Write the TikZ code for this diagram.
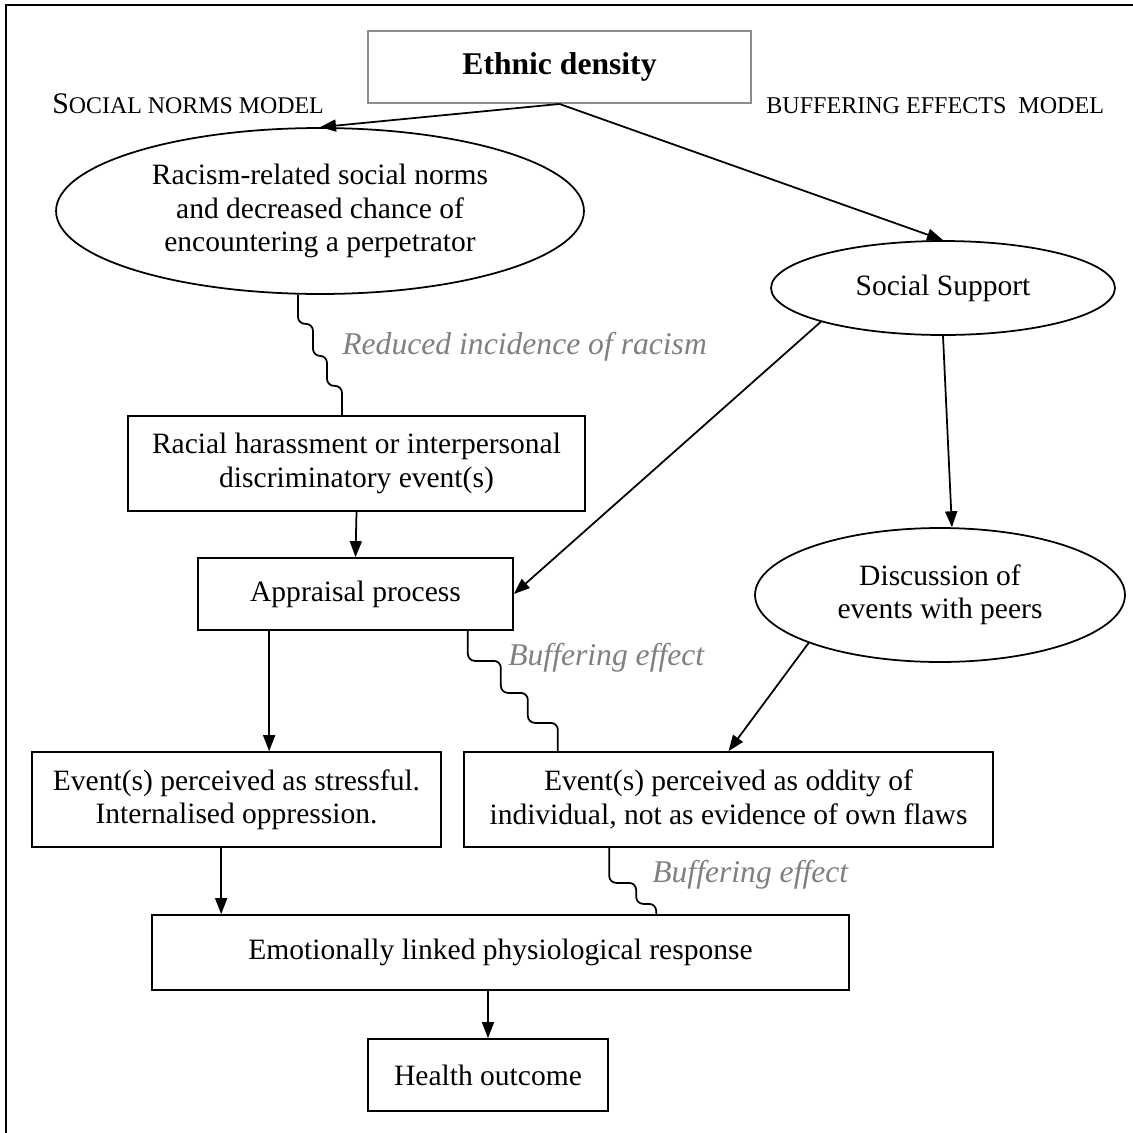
\documentclass[tikz,border=0pt]{standalone}
\usepackage{fontspec}
\setmainfont{Liberation Serif}
\usepackage{tikz}
\usetikzlibrary{positioning, arrows.meta, calc, shapes.geometric}

\begin{document}
\begin{tikzpicture}[
  x=0.02cm, y=-0.02cm,
  >={Triangle[length=0.32cm, width=0.24cm]},
  box/.style={rectangle, draw, line width=1pt, align=center, inner sep=0pt,
    font=\fontsize{16.8}{19}\selectfont},
  oval/.style={ellipse, draw, line width=1pt, align=center, inner sep=0pt,
    font=\fontsize{16.8}{19}\selectfont},
  arr/.style={->, line width=1pt},
  wave/.style={line width=1pt, rounded corners=4pt},
  lbl/.style={font=\fontsize{18}{21}\selectfont\itshape, text=black!50,
    anchor=west, inner sep=0pt},
  model/.style={anchor=base west, inner sep=0pt},
]
\useasboundingbox (0,0) rectangle (1133,1133);

% --- Frame ---
\draw[line width=1.3pt] (6,1133) -- (6,5) -- (1133,5);

% --- Top ---
\node[box, draw=black!45, line width=1.1pt,
  font=\fontsize{18}{21}\selectfont\bfseries,
  minimum width=7.66cm, minimum height=1.44cm] (ethnic) at (559.5,67) {Ethnic density};

\node[model] (snm) at (52,113)
  {\fontsize{17}{20}\selectfont S\fontsize{13.6}{16}\selectfont OCIAL NORMS MODEL};
\node[model] (bem) at (766,113)
  {\fontsize{13.7}{16}\selectfont BUFFERING EFFECTS\ \ MODEL};

% --- Social norms side ---
\node[oval, minimum width=10.56cm, minimum height=3.32cm] (norms) at (320,211)
  {Racism-related social norms\\and decreased chance of\\encountering a perpetrator};
\node[box, minimum width=9.14cm, minimum height=1.9cm] (harass) at (356.5,463.5)
  {Racial harassment or interpersonal\\discriminatory event(s)};
\node[box, minimum width=6.3cm, minimum height=1.44cm] (appraisal) at (355.5,594)
  {Appraisal process};

% --- Buffering side ---
\node[oval, minimum width=6.88cm, minimum height=1.88cm] (support) at (943,288)
  {Social Support};
\node[oval, minimum width=7.4cm, minimum height=2.68cm] (discuss) at (940,595)
  {Discussion of\\events with peers};

% --- Outcomes ---
\node[box, minimum width=8.18cm, minimum height=1.9cm] (stress) at (236.5,799.5)
  {Event(s) perceived as stressful.\\Internalised oppression.};
\node[box, minimum width=10.58cm, minimum height=1.9cm] (oddity) at (728.5,799.5)
  {Event(s) perceived as oddity of\\individual, not as evidence of own flaws};
\node[box, minimum width=13.94cm, minimum height=1.5cm] (emotion) at (500.5,952.5)
  {Emotionally linked physiological response};
\node[box, minimum width=4.8cm, minimum height=1.44cm] (health) at (488,1075)
  {Health outcome};

% arrows
\draw[arr] (ethnic.south) -- (norms.north);
\draw[arr] (ethnic.south) -- (support.north);
\draw[arr] (harass.south) -- (appraisal.north);
\draw[arr] (support.south west) -- (appraisal.east);
\draw[arr] (support.south) -- (discuss.80);
\draw[arr] (discuss.south west) -- (oddity.north);
\coordinate (a1) at ($(appraisal.south west)+(72,0)$);
\draw[arr] (a1) -- (a1 |- stress.north);
\coordinate (s1) at ($(stress.south west)+(190,0)$);
\draw[arr] (s1) -- (s1 |- emotion.north);
\draw[arr] (emotion.south -| health.north) -- (health.north);

% wavy links
\draw[wave] ($(norms.south)+(-22,0)$) |- ++(15,29) |- ++(14,32) |- ++(15,30) -- ++(0,31);
\draw[wave] ($(appraisal.south east)+(-46,0)$) |- ++(33,30) |- ++(27,32) |- ++(30,30) -- ++(0,30);
\draw[wave] ($(oddity.south west)+(146,0)$) |- ++(27,35) |- ++(20,21) -- ++(0,12);

\node[lbl] (lblracism) at (342,347) {Reduced incidence of racism};
\node[lbl] (lblbuf1) at (508,658) {Buffering effect};
\node[lbl] (lblbuf2) at (652,875) {Buffering effect};

\end{tikzpicture}
\end{document}
